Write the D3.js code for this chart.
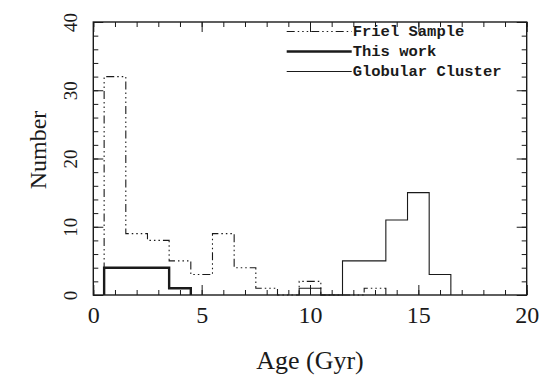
<!DOCTYPE html>
<html>
<head>
<meta charset="utf-8">
<script src="https://cdn.jsdelivr.net/npm/d3@7"></script>
<style>
  html, body { margin: 0; padding: 0; background: #fff; }
  svg { display: block; }
</style>
</head>
<body>
<script>
// ---- data (bin centres in Gyr, counts) ----
const frielAges   = [1, 2, 3, 4, 5, 6, 7, 8, 9, 10, 11, 12, 13];
const frielCounts = [32, 9, 8, 5, 3, 9, 4, 1, 0, 2, 0, 0, 1];
const thisAges    = [1, 2, 3, 4];
const thisCounts  = [4, 4, 4, 1];
const globAges    = [10, 11, 12, 13, 14, 15, 16];
const globCounts  = [1, 0, 5, 5, 11, 15, 3];
const binWidth = 1;
const xMajorTicks = [0, 5, 10, 15, 20];
const yMajorTicks = [0, 10, 20, 30, 40];
const legendLabels = ["Friel Sample", "This work", "Globular Cluster"];

const W = 560, H = 383;
const margin = { left: 93.3, right: 33.3, top: 22, bottom: 88 };
const iw = W - margin.left - margin.right;
const ih = H - margin.top - margin.bottom;
const ink = "#1a1a1a";

const svg = d3.select("body").append("svg").attr("width", W).attr("height", H);
const g = svg.append("g").attr("transform", `translate(${margin.left},${margin.top})`);

const x = d3.scaleLinear().domain([0, 20]).range([0, iw]);
const y = d3.scaleLinear().domain([0, 40]).range([ih, 0]);

const xMinor = d3.range(0, 21, 1);
const yMinor = d3.range(0, 41, 2);

function styleAxis(sel) {
  sel.select(".domain").remove();
  sel.selectAll("line").attr("stroke", ink).attr("stroke-width", 1);
}

// minor ticks
g.append("g").attr("transform", `translate(0,${ih})`)
  .call(d3.axisBottom(x).tickValues(xMinor).tickSizeInner(-5).tickSizeOuter(0).tickFormat(""))
  .call(styleAxis);
g.append("g")
  .call(d3.axisTop(x).tickValues(xMinor).tickSizeInner(-5).tickSizeOuter(0).tickFormat(""))
  .call(styleAxis);
g.append("g")
  .call(d3.axisLeft(y).tickValues(yMinor).tickSizeInner(-5).tickSizeOuter(0).tickFormat(""))
  .call(styleAxis);
g.append("g").attr("transform", `translate(${iw},0)`)
  .call(d3.axisRight(y).tickValues(yMinor).tickSizeInner(-5).tickSizeOuter(0).tickFormat(""))
  .call(styleAxis);

// major ticks + labels
const xb = g.append("g").attr("transform", `translate(0,${ih})`)
  .call(d3.axisBottom(x).tickValues(xMajorTicks).tickSizeInner(-10).tickSizeOuter(0))
  .call(styleAxis);
xb.selectAll("text")
  .attr("y", 28).attr("dy", 0)
  .attr("fill", ink)
  .style("font-family", "'Liberation Serif', serif")
  .style("font-size", "24px");

g.append("g")
  .call(d3.axisTop(x).tickValues(xMajorTicks).tickSizeInner(-10).tickSizeOuter(0).tickFormat(""))
  .call(styleAxis);

const yl = g.append("g")
  .call(d3.axisLeft(y).tickValues(yMajorTicks).tickSizeInner(-10).tickSizeOuter(0))
  .call(styleAxis);
yl.selectAll("text")
  .attr("transform", "rotate(-90)")
  .attr("x", 0).attr("y", -16.6).attr("dy", 0)
  .attr("text-anchor", "middle")
  .attr("fill", ink)
  .style("font-family", "'Liberation Serif', serif")
  .style("font-size", "19px");

g.append("g").attr("transform", `translate(${iw},0)`)
  .call(d3.axisRight(y).tickValues(yMajorTicks).tickSizeInner(-10).tickSizeOuter(0).tickFormat(""))
  .call(styleAxis);

// frame
g.append("rect").attr("x", 0).attr("y", 0).attr("width", iw).attr("height", ih)
  .attr("fill", "none").attr("stroke", ink).attr("stroke-width", 1.4);

// histograms as step outlines
function stepPoints(ages, counts) {
  const pts = [];
  pts.push([ages[0] - binWidth / 2, 0]);
  ages.forEach((a, i) => pts.push([a - binWidth / 2, counts[i]]));
  pts.push([ages[ages.length - 1] + binWidth / 2, 0]);
  return pts;
}
const line = d3.line().x(d => x(d[0])).y(d => y(d[1])).curve(d3.curveStepAfter);

const frielDash = "8,3,1.5,3,1.5,3,1.5,3";

g.append("path").attr("d", line(stepPoints(globAges, globCounts)))
  .attr("fill", "none").attr("stroke", ink).attr("stroke-width", 1.1);
g.append("path").attr("d", line(stepPoints(frielAges, frielCounts)))
  .attr("fill", "none").attr("stroke", ink).attr("stroke-width", 1.1)
  .attr("stroke-dasharray", frielDash);
g.append("path").attr("d", line(stepPoints(thisAges, thisCounts)))
  .attr("fill", "none").attr("stroke", ink).attr("stroke-width", 2.4);

// legend
const legendStyles = [
  { w: 1.1, dash: frielDash },
  { w: 2.4, dash: null },
  { w: 1.1, dash: null }
];
const lg = svg.append("g");
legendLabels.forEach((lab, i) => {
  const by = 36 + i * 20;
  lg.append("line")
    .attr("x1", 286.7).attr("x2", 351.7)
    .attr("y1", by - 4.5).attr("y2", by - 4.5)
    .attr("stroke", ink).attr("stroke-width", legendStyles[i].w)
    .attr("stroke-dasharray", legendStyles[i].dash);
  lg.append("text")
    .attr("x", 352.7).attr("y", by)
    .attr("fill", ink)
    .style("font-family", "'Liberation Mono', monospace")
    .style("font-weight", "bold")
    .style("font-size", "15.5px")
    .text(lab);
});

// axis titles
svg.append("text")
  .attr("x", margin.left + iw / 2).attr("y", 369)
  .attr("text-anchor", "middle").attr("fill", ink)
  .style("font-family", "'Liberation Serif', serif")
  .style("font-size", "26px")
  .text("Age (Gyr)");

svg.append("text")
  .attr("transform", "translate(46,150) rotate(-90)")
  .attr("text-anchor", "middle").attr("fill", ink)
  .style("font-family", "'Liberation Serif', serif")
  .style("font-size", "24px")
  .text("Number");
</script>
</body>
</html>
